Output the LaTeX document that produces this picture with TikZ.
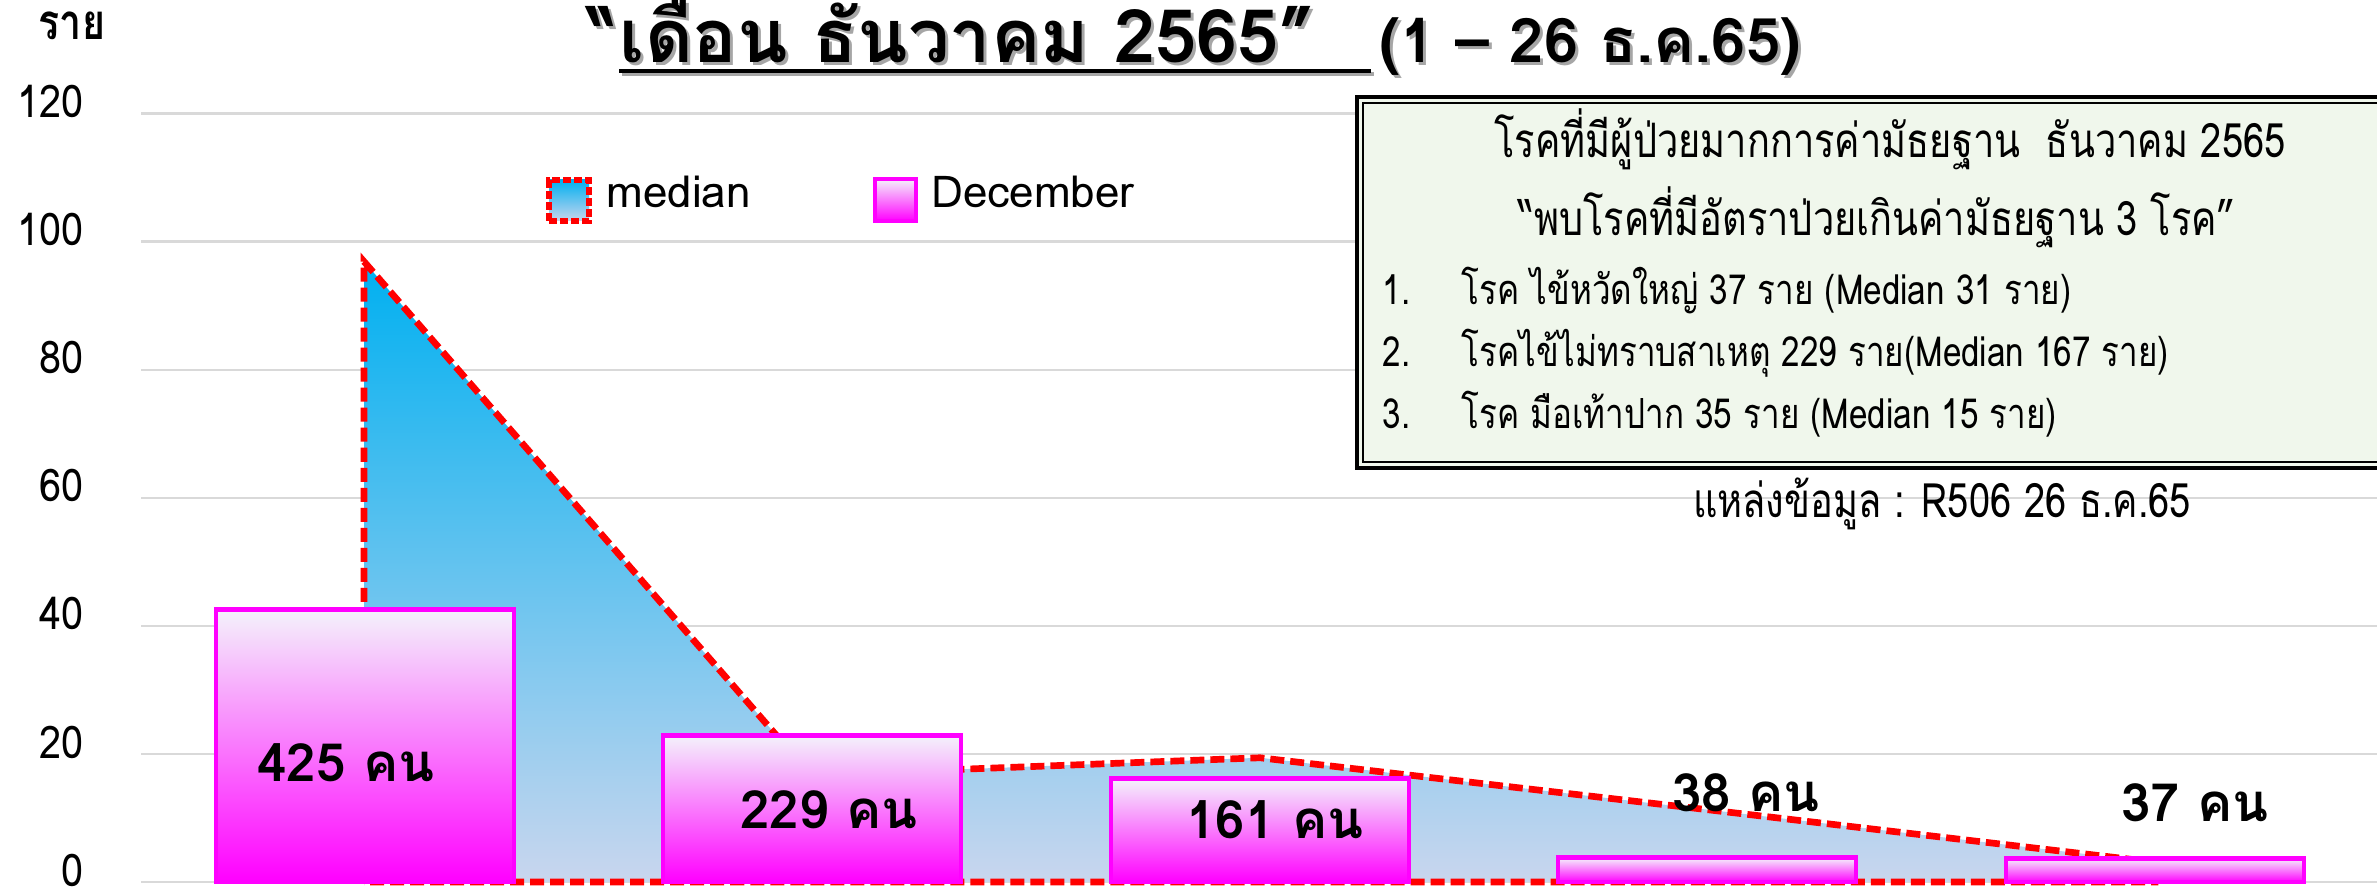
\documentclass[tikz,border=0pt]{standalone}
\usepackage{fontspec}
\setmainfont{Loma}[Script=Thai]
\newfontfamily\narrowfont[Script=Thai, FakeStretch=0.8]{Loma}
\newfontfamily\axisfont[Script=Thai, FakeStretch=0.88]{Loma}
\usepackage{tikz}
\usetikzlibrary{positioning}

\definecolor{gridgray}{HTML}{D9D9D9}
\definecolor{medred}{HTML}{FF0000}
\definecolor{medtop}{HTML}{00B0F0}
\definecolor{medmid}{HTML}{8EA9DB}
\definecolor{medbot}{HTML}{C9D6EE}
\definecolor{bartop}{HTML}{F4F2FB}
\definecolor{barmid}{HTML}{FF9CFF}
\definecolor{barbot}{HTML}{FF00FF}
\definecolor{boxgreen}{HTML}{F0F7EC}

\tikzset{
	grid line/.style = {draw=gridgray, line width=0.7pt},
	median line/.style = {draw=medred, line width=1.9pt, dash pattern=on 0.14cm off 0.06cm},
	median fill/.style = {top color=medtop, middle color=medmid, bottom color=medbot},
	dec bar/.style = {draw=barbot, line width=1.4pt, top color=bartop, middle color=barmid, bottom color=barbot},
	bar label/.style = {font=\fontsize{15}{18}\selectfont\bfseries},
	axis label/.style = {anchor=south east, inner sep=0pt, font=\axisfont\fontsize{12.8}{15}\selectfont},
	box text/.style = {anchor=base, inner sep=0pt, font=\narrowfont\fontsize{13.5}{16}\selectfont},
	item text/.style = {anchor=base west, inner sep=0pt, font=\narrowfont\fontsize{11.8}{14}\selectfont},
	title font/.style = {anchor=base west, inner sep=0pt, font=\fontsize{21}{24}\selectfont\bfseries},
}

\begin{document}
\begin{tikzpicture}[x=0.01cm, y=0.01cm]
	\useasboundingbox (0,0) rectangle (2377,891);
	\clip (0,0) rectangle (2377,891);

	% axis and grid (values 0..120)
	\begin{scope}[shift={(0,9)}, y=0.064cm]
		\foreach \v in {0,20,...,120} {
			\draw [grid line] (141,\v) -- (2377,\v);
			\node [axis label] (y\v) at (84,\v) [yshift=-0.05cm] {\v};
		}
		% median area
		\draw [median fill, median line] (364,0) -- (364,96.9) -- (811,16.7) -- (1260,19.4)
			-- (1707,11.3) -- (2155,3.1) -- (2155,0) -- cycle;
		% december bars
		\foreach \cx/\v in {365/42.5, 812/22.9, 1260/16.1, 1707/3.8, 2155/3.7}
			\draw [dec bar] (\cx-149,0) rectangle (\cx+149,\v);
	\end{scope}

	\node [bar label] (n425) at (346,128) {425 คน};
	\node [bar label] (n229) at (829,81) {229 คน};
	\node [bar label] (n161) at (1275,71) {161 คน};
	\node [bar label] (n38) at (1746,98) {38 คน};
	\node [bar label] (n37) at (2195,88) {37 คน};

	\node [font=\narrowfont\fontsize{14}{16}\selectfont\bfseries] (unit) at (72,865) {ราย};

	% legend
	\draw [median fill, median line, line width=1.5pt, dash pattern=on 0.08cm off 0.03cm] (549,670) rectangle (589,711);
	\node [anchor=base west, inner sep=0pt, font=\fontsize{12.5}{15}\selectfont] (lmedian) at (606,683) {median};
	\draw [dec bar, line width=1.2pt] (875,670) rectangle (916,712);
	\node [anchor=base west, inner sep=0pt, font=\fontsize{12.5}{15}\selectfont] (ldec) at (931,683) {December};

	% info box
	\draw [fill=boxgreen, line width=1.2pt] (1357,423) rectangle (2440,794);
	\draw [line width=0.6pt] (1363,429) rectangle (2440,788);
	\node [box text] (head1) at (1890,733) {โรคที่มีผู้ป่วยมากการค่ามัธยฐาน~~ธันวาคม 2565};
	\node [box text] (head2) at (1877,655) {“พบโรคที่มีอัตราป่วยเกินค่ามัธยฐาน 3 โรค”};
	\node [item text] (num1) at (1382,586) {1.};
	\node [item text] (item1) at (1461,586) {โรค ไข้หวัดใหญ่ 37 ราย (Median 31 ราย)};
	\node [item text] (num2) at (1382,524) {2.};
	\node [item text] (item2) at (1461,524) {โรคไข้ไม่ทราบสาเหตุ 229 ราย(Median 167 ราย)};
	\node [item text] (num3) at (1382,462) {3.};
	\node [item text] (item3) at (1461,462) {โรค มือเท้าปาก 35 ราย (Median 15 ราย)};
	\node [box text] (source) at (1942,373) {แหล่งข้อมูล : R506 26 ธ.ค.65};

	% title with shadow
	\foreach \d/\c in {3/black!35, 0/black} {
		\begin{scope}[shift={(\d,-\d)}, \c]
			\node [title font] (tquote) at (587,828) {“};
			\node [title font] (tmain) at (tquote.base east) {เดือน ธันวาคม 2565”\kern0.56cm};
			\node [title font, font=\fontsize{17.5}{20}\selectfont\bfseries, xshift=0.08cm] (tsub) at (tmain.base east) {(1 – 26 ธ.ค.65)};
			\draw [line width=1.2pt] ([yshift=-0.08cm]tmain.base west) -- ([yshift=-0.08cm]tmain.base east);
		\end{scope}
	}
\end{tikzpicture}
\end{document}
